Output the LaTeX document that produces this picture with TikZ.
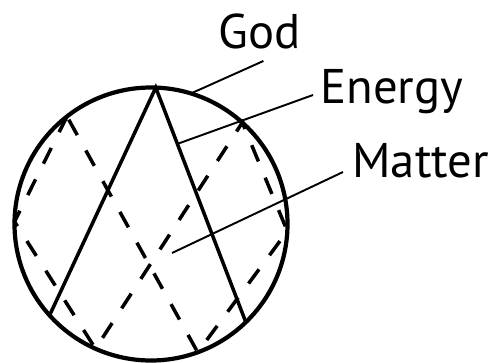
\documentclass[tikz,border=0pt]{standalone}
\usepackage{fontspec}
\setmainfont{PT Sans}
\usetikzlibrary{calc}

\begin{document}
\begin{tikzpicture}[
    rim/.style={line width=2.4pt},
    ray/.style={line width=2pt},
    split/.style={line width=2pt, dash pattern=on 10pt off 10pt},
    leader/.style={line width=1.1pt},
    tag/.style={anchor=base west, inner sep=0pt, font=\fontsize{27.7}{30}\selectfont}]
  \useasboundingbox (0,0) rectangle (9.88,7.24);
  \coordinate (O) at (3.02,2.76);
  \coordinate (T) at ($(O)+(88:2.73)$);
  \coordinate (L) at ($(O)+(222:2.73)$);
  \coordinate (R) at ($(O)+(314:2.73)$);
  \coordinate (A1) at ($(O)+(128:2.73)$);
  \coordinate (A2) at ($(O)+(179:2.73)$);
  \coordinate (A3) at ($(O)+(246:2.73)$);
  \coordinate (B1) at ($(O)+(48:2.73)$);
  \coordinate (B2) at ($(O)+(-3:2.73)$);
  \coordinate (B3) at ($(O)+(290:2.73)$);

  \draw[split] (A1) -- (A2) -- (A3) -- (B1) -- (B2) -- (B3) -- cycle;
  \draw[ray] (L) -- (T) -- (R);
  \draw[rim] (O) circle (2.73);

  \node[tag] (god) at (4.36,6.26) {God};
  \node[tag] (energy) at (6.40,5.18) {Energy};
  \node[tag] (matter) at (7.04,3.70) {Matter};

  \coordinate (g0) at ($(O)+(73:2.73)$);
  \coordinate (e0) at ($(T)!0.24!(R)$);
  \coordinate (m0) at ($(O)+(0.42,-0.58)$);
  \draw[leader] (g0) -- ($(god.base)+(0.08,-0.24)$);
  \draw[leader] (e0) -- ($(energy.base west)+(-0.14,0.16)$);
  \draw[leader] (m0) -- ($(matter.base west)+(-0.18,0.10)$);
\end{tikzpicture}
\end{document}
